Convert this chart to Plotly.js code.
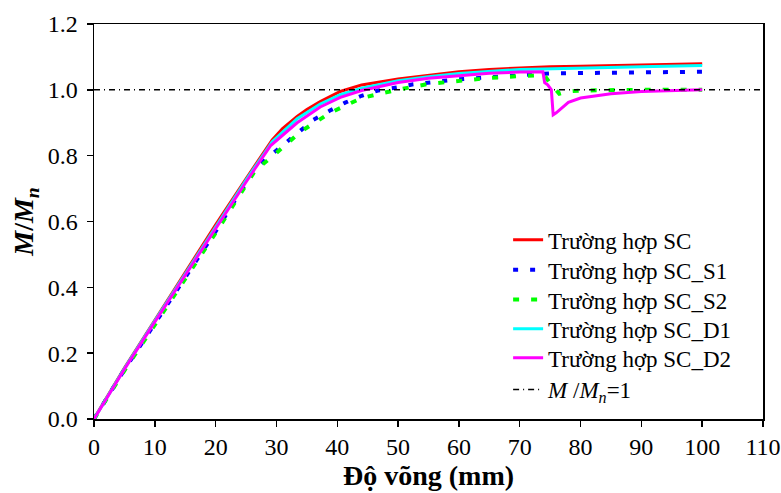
<!DOCTYPE html>
<html><head><meta charset="utf-8">
<script src="https://cdn.plot.ly/plotly-3.0.1.min.js"></script>
<style>body{margin:0;background:#fff}#c{width:781px;height:493px}</style>
</head><body><div id="c"></div>
<script>
// Data
const xSC = [0, 1, 5, 10, 15, 20, 25, 29.3, 31, 33.4, 35, 37.2, 40.5, 44, 50, 55, 60, 65, 70, 75, 80, 90, 100];
const ySC = [0, 0.032, 0.155, 0.3, 0.445, 0.59, 0.73, 0.848, 0.882, 0.919, 0.94, 0.964, 0.995, 1.015, 1.033, 1.045, 1.055, 1.062, 1.067, 1.07, 1.072, 1.076, 1.079];

const xS1 = [0, 1, 5, 10, 15, 20, 26.5, 29.5, 31.7, 33.9, 36.1, 38.8, 41.3, 44, 46.7, 49.8, 52.5, 60, 70, 75, 80, 90, 100];
const yS1 = [0, 0.03, 0.15, 0.29, 0.43, 0.57, 0.762, 0.808, 0.843, 0.878, 0.909, 0.937, 0.961, 0.982, 0.998, 1.007, 1.017, 1.032, 1.045, 1.05, 1.051, 1.053, 1.055];

const xS2 = [0, 1, 5, 10, 15, 20, 26.5, 29.5, 33.9, 38.8, 44, 49.8, 55, 60, 65, 70, 74, 75, 76.5, 78, 80, 90, 100];
const yS2 = [0, 0.029, 0.147, 0.286, 0.425, 0.565, 0.755, 0.8, 0.872, 0.93, 0.975, 1.0, 1.018, 1.028, 1.036, 1.042, 1.045, 1.02, 0.988, 0.995, 0.998, 1.0, 1.0];

const xD1 = [0, 1, 5, 10, 15, 20, 25, 29.3, 33.4, 37.2, 40.5, 44, 50, 55, 60, 70, 80, 90, 100];
const yD1 = [0, 0.031, 0.153, 0.298, 0.442, 0.586, 0.726, 0.842, 0.912, 0.957, 0.985, 1.005, 1.028, 1.04, 1.05, 1.062, 1.067, 1.07, 1.074];

const xD2 = [0, 1, 5, 10, 15, 20, 25, 29, 33.4, 37.2, 40.5, 44, 50, 55, 60, 65, 70, 73.8, 74.1, 74.6, 75.2, 75.5, 76, 78, 80, 85, 90, 95, 100];
const yD2 = [0, 0.03, 0.151, 0.295, 0.438, 0.58, 0.72, 0.83, 0.9, 0.948, 0.977, 0.998, 1.022, 1.035, 1.043, 1.05, 1.054, 1.055, 1.022, 1.015, 1.0, 0.924, 0.93, 0.962, 0.975, 0.988, 0.995, 0.998, 1.0];

const xRef = [0, 110];
const yRef = [1, 1];

const xTicks = [0, 10, 20, 30, 40, 50, 60, 70, 80, 90, 100, 110];
const yTicks = [0, 0.2, 0.4, 0.6, 0.8, 1.0, 1.2];
const yTickText = ['0.0', '0.2', '0.4', '0.6', '0.8', '1.0', '1.2'];

const names = ['Trường hợp SC', 'Trường hợp SC_S1', 'Trường hợp SC_S2', 'Trường hợp SC_D1', 'Trường hợp SC_D2', '<i>M</i> /<i>M</i><sub><i>n</i></sub>=1'];

const traces = [
  {x: xSC, y: ySC, name: names[0], legend: 'legend', mode: 'lines', line: {color: '#ff0000', width: 3}},
  {x: xS1, y: yS1, name: names[1], legend: 'legend2', mode: 'lines', line: {color: '#0000ff', width: 4, dash: '5px,12px'}},
  {x: xS2, y: yS2, name: names[2], legend: 'legend3', mode: 'lines', line: {color: '#00ff00', width: 4, dash: '6px,12px'}},
  {x: xD1, y: yD1, name: names[3], legend: 'legend4', mode: 'lines', line: {color: '#00ffff', width: 3}},
  {x: xD2, y: yD2, name: names[4], legend: 'legend5', mode: 'lines', line: {color: '#ff00ff', width: 3}},
  {x: xRef, y: yRef, name: names[5], legend: 'legend6', mode: 'lines', line: {color: '#000000', width: 1.5, dash: '6px,4px,1px,4px'}}
];

const font = 'Liberation Serif, Times New Roman, serif';
const legendRowY = [0.4539, 0.378, 0.3021, 0.2281, 0.1547, 0.0746];
function leg(y) {
  return {x: 0.619, y: y, xanchor: 'left', yanchor: 'middle', bgcolor: 'rgba(0,0,0,0)', borderwidth: 0,
          font: {family: font, size: 23, color: '#000'}};
}
const layout = {
  width: 781, height: 493,
  margin: {l: 93.5, r: 18, t: 24, b: 73.5},
  paper_bgcolor: '#fff', plot_bgcolor: '#fff',
  font: {family: font, size: 24, color: '#000'},
  showlegend: true,
  legend: leg(legendRowY[0]), legend2: leg(legendRowY[1]), legend3: leg(legendRowY[2]),
  legend4: leg(legendRowY[3]), legend5: leg(legendRowY[4]), legend6: leg(legendRowY[5]),
  xaxis: {
    range: [0, 110], tickvals: xTicks,
    showgrid: false, zeroline: false, showline: true, linecolor: '#000', linewidth: 1.5, mirror: true,
    ticks: 'outside', ticklen: 6, tickwidth: 1.5, tickcolor: '#000',
    tickfont: {family: font, size: 24},
    title: {text: '<b>Độ võng (mm)</b>', font: {family: font, size: 28}, standoff: 4}
  },
  yaxis: {
    range: [0, 1.2], tickvals: yTicks, ticktext: yTickText,
    showgrid: false, zeroline: false, showline: true, linecolor: '#000', linewidth: 1.5, mirror: true,
    ticks: 'outside', ticklen: 6, tickwidth: 1.5, tickcolor: '#000',
    tickfont: {family: font, size: 24}, ticklabelstandoff: 4,
    title: {text: '<b><i>M</i>/<i>M</i><sub><i>n</i></sub></b>', font: {family: font, size: 28}, standoff: 6}
  }
};
Plotly.newPlot('c', traces, layout, {displayModeBar: false, staticPlot: true});
</script></body></html>
